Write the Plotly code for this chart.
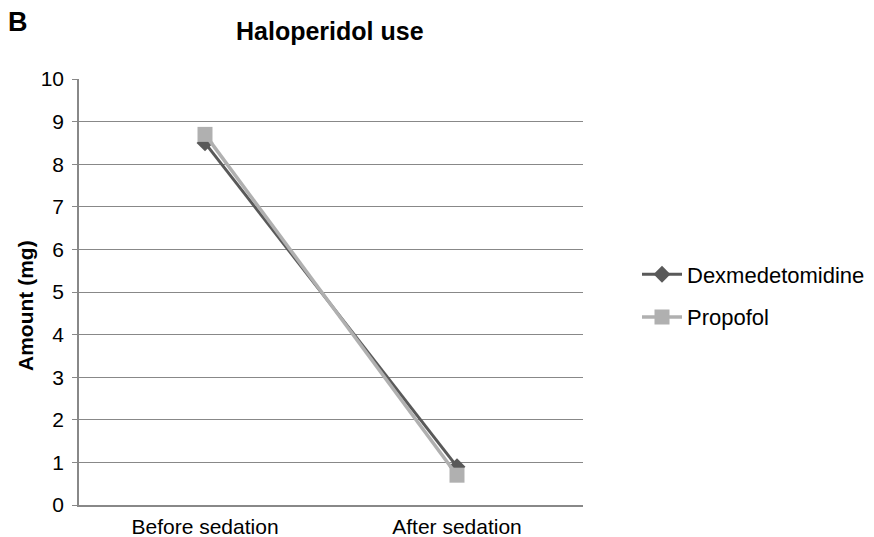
import plotly.graph_objects as go

categories = ["Before sedation", "After sedation"]
dexmedetomidine = [8.5, 0.9]
propofol = [8.7, 0.7]
y_ticks = list(range(0, 11))

fig = go.Figure()
fig.add_trace(go.Scatter(
    x=categories, y=dexmedetomidine, name="Dexmedetomidine", mode="lines+markers",
    legendgroup="d",
    line=dict(color="#595959", width=3),
    marker=dict(symbol="diamond", size=13, color="#595959"),
))
fig.add_trace(go.Scatter(
    x=categories, y=propofol, name="Propofol", mode="lines+markers",
    legendgroup="p",
    line=dict(color="#b0b0b0", width=3.5),
    marker=dict(symbol="square", size=15, color="#b0b0b0"),
))

font = "Liberation Sans, Arial, sans-serif"
OFF = 8  # page body margin
L, T, W, H = 79 - OFF, 79 - OFF, 504, 426


def px(x, y):
    return (x - OFF - L) / W, 1 - (y - OFF - T) / H


fig.update_layout(
    width=874, height=537,
    margin=dict(l=L, r=874 - L - W, t=T, b=537 - T - H, autoexpand=False),
    paper_bgcolor="white", plot_bgcolor="white",
    font=dict(family=font, size=21, color="black"),
    showlegend=True,
    legend=dict(x=px(637, 0)[0], y=px(0, 296)[1], xanchor="left", yanchor="middle",
                traceorder="grouped", font=dict(size=22),
                itemwidth=40, tracegroupgap=11, bgcolor="rgba(0,0,0,0)"),
)
ax, ay = px(330, 31)
bx, by = px(18, 22)
tx, ty = px(25, 306)
fig.update_layout(annotations=[
    dict(text="<b>Haloperidol use</b>", x=ax, y=ay, xref="paper", yref="paper",
         showarrow=False, font=dict(size=25), xanchor="center", yanchor="middle"),
    dict(text="<b>B</b>", x=bx, y=by, xref="paper", yref="paper",
         showarrow=False, font=dict(size=27), xanchor="center", yanchor="middle"),
    dict(text="<b>Amount (mg)</b>", x=tx, y=ty, xref="paper", yref="paper",
         showarrow=False, font=dict(size=21), textangle=-90,
         xanchor="center", yanchor="middle"),
])
fig.update_xaxes(
    type="category", range=[-0.5, 1.5], showgrid=False, automargin=False,
    showline=True, linecolor="#888888", linewidth=1.5,
    ticks="", tickfont=dict(size=21), ticklabelstandoff=2,
)
fig.update_yaxes(
    range=[0, 10], tickvals=y_ticks, showgrid=True, gridcolor="#888888", gridwidth=1.2,
    showline=True, linecolor="#888888", linewidth=1.5, automargin=False,
    ticks="outside", ticklen=5, tickcolor="#888888",
    tickfont=dict(size=21), zeroline=False, ticklabelstandoff=4,
)
fig.write_html("out.html")
